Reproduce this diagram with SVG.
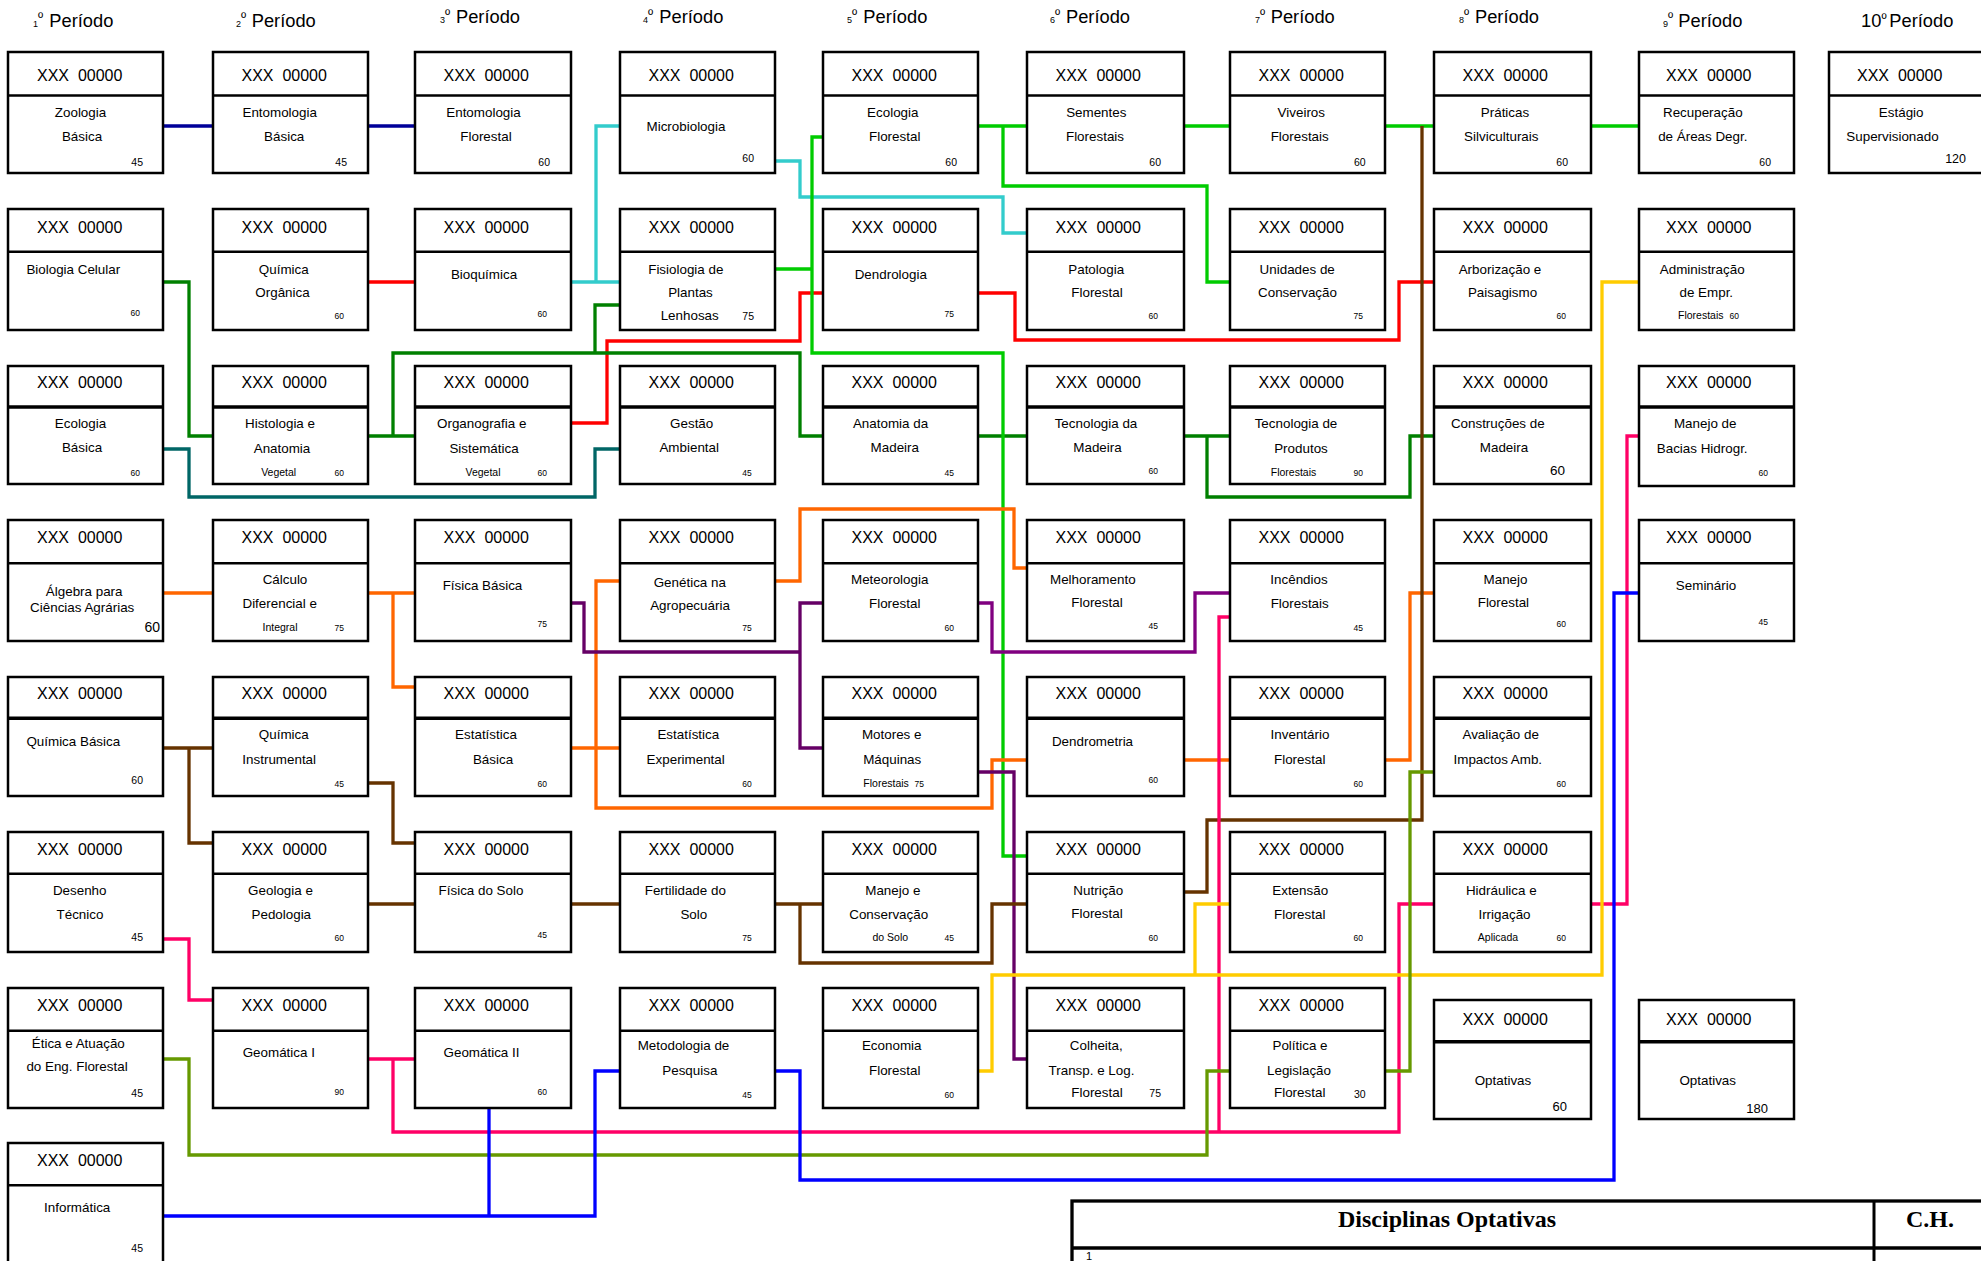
<svg xmlns="http://www.w3.org/2000/svg" width="1981" height="1261" viewBox="0 0 1981 1261">
<style>
.b{fill:#fff;stroke:#000;stroke-width:2.5}
.d{stroke:#000;stroke-width:2.5}
.d3{stroke:#000;stroke-width:3.5}
text{font-family:"Liberation Sans",Arial,sans-serif;fill:#000}
.h{font-size:16px}
.t{font-size:13.4px;text-anchor:middle}
.s{font-size:10.5px;text-anchor:middle}
.sl{font-size:10.5px}
.n{font-size:10.5px;text-anchor:end}
.m{font-size:8.5px;text-anchor:end}
.ph{font-size:18.3px}
.sd{font-size:9px}
.or{font-size:14px}
.c{fill:none;stroke-width:3.3;stroke-linejoin:miter}
.tb{font-family:"Liberation Serif","Times New Roman",serif;font-weight:bold;font-size:24px;text-anchor:middle}
</style>
<rect width="1981" height="1261" fill="#fff"/>
<g id="periodos">
<text class="ph" y="26.5"><tspan x="33" class="sd">1</tspan><tspan class="or" dy="-3.5">º</tspan><tspan x="49.3" dy="3.5">Período</tspan></text>
<text class="ph" y="26.5"><tspan x="236" class="sd">2</tspan><tspan class="or" dy="-3.5">º</tspan><tspan x="251.7" dy="3.5">Período</tspan></text>
<text class="ph" y="23"><tspan x="440" class="sd">3</tspan><tspan class="or" dy="-3.5">º</tspan><tspan x="456" dy="3.5">Período</tspan></text>
<text class="ph" y="23"><tspan x="643" class="sd">4</tspan><tspan class="or" dy="-3.5">º</tspan><tspan x="659.3" dy="3.5">Período</tspan></text>
<text class="ph" y="23"><tspan x="847" class="sd">5</tspan><tspan class="or" dy="-3.5">º</tspan><tspan x="863.3" dy="3.5">Período</tspan></text>
<text class="ph" y="23"><tspan x="1050" class="sd">6</tspan><tspan class="or" dy="-3.5">º</tspan><tspan x="1066" dy="3.5">Período</tspan></text>
<text class="ph" y="23"><tspan x="1255" class="sd">7</tspan><tspan class="or" dy="-3.5">º</tspan><tspan x="1270.7" dy="3.5">Período</tspan></text>
<text class="ph" y="23"><tspan x="1459" class="sd">8</tspan><tspan class="or" dy="-3.5">º</tspan><tspan x="1475" dy="3.5">Período</tspan></text>
<text class="ph" y="26.5"><tspan x="1663" class="sd">9</tspan><tspan class="or" dy="-3.5">º</tspan><tspan x="1678.3" dy="3.5">Período</tspan></text>
<text class="ph" y="27"><tspan x="1861">10</tspan><tspan class="or" x="1881.5" dy="-3">º</tspan><tspan x="1889.3" dy="3">Período</tspan></text>
</g>
<g id="connectors">
<path class="c" stroke="#000099" d="M163,126H213M368,126H415"/>
<path class="c" stroke="#ff0000" d="M368,282H415M570,423H607V341H800V293H823M978,293H1015V340H1399V282H1434"/>
<path class="c" stroke="#008000" d="M163,282H189V436H213M368,436H415M393,436V353H800V436H823M595,353V305H620M978,436H1027M1184,436H1230M1207,436V497H1410V436H1434"/>
<path class="c" stroke="#006666" d="M163,449H189V497H595V449H620"/>
<path class="c" stroke="#33cccc" d="M571,282H620M596,282V126H620M775,161H800V197H1003V233H1027"/>
<path class="c" stroke="#00cc00" d="M978,126H1027M1003,126V186H1207V282H1230M1184,126H1230M1385,126H1434M1591,126H1639M775,269H812M823,137H812V353H1003V856H1027"/>
<path class="c" stroke="#ff6600" d="M163,593H213M368,593H415M393,593V687H415M571,748H620M620,581H596V808H992V760H1027M775,581H800V509H1014V568H1027M1184,760H1230M1385,760H1410V593H1434"/>
<path class="c" stroke="#660066" d="M571,603H584V652H800M823,603H800V748H823M978,772H1014V1059H1027"/>
<path class="c" stroke="#800080" d="M978,603H992V652H1195V593H1230"/>
<path class="c" stroke="#663300" d="M163,748H213M189,748V843H213M368,783H393V843H415M368,904H415M571,904H620M775,904H823M800,904V963H992V904H1027M1184,892H1207V820H1422V126"/>
<path class="c" stroke="#ff0066" d="M163,939H189V1000H213M368,1059H415M393,1059V1132H1399V904H1434M1230,617H1219V1132M1591,904H1627V436H1639"/>
<path class="c" stroke="#ffcc00" d="M978,1071H992V975H1602V282H1639M1195,975V904H1230"/>
<path class="c" stroke="#669900" d="M163,1059H189V1155H1207V1071H1230M1385,1071H1410V772H1434"/>
<path class="c" stroke="#0000ff" d="M163,1216H595V1071H620M489,1216V1108M775,1071H800V1180H1614V593H1639"/>
</g>

<g id="n1-1"><rect class="b" x="8" y="52" width="155" height="121"/><line class="d" x1="8" y1="95.5" x2="163" y2="95.5"/><text class="h" x="37" y="81">XXX&#160; 00000</text><text class="t" x="80.5" y="117.3">Zoologia</text><text class="t" x="82" y="141">Básica</text><text class="n" x="143" y="165.5">45</text></g>
<g id="n1-2"><rect class="b" x="8" y="209" width="155" height="121"/><line class="d" x1="8" y1="251.7" x2="163" y2="251.7"/><text class="h" x="37" y="232.5">XXX&#160; 00000</text><text class="t" x="73.3" y="274">Biologia Celular</text><text class="m" x="140" y="316">60</text></g>
<g id="n1-3"><rect class="b" x="8" y="366" width="155" height="118"/><line class="d3" x1="8" y1="407" x2="163" y2="407"/><text class="h" x="37" y="388">XXX&#160; 00000</text><text class="t" x="80.5" y="427.5">Ecologia</text><text class="t" x="82" y="451.7">Básica</text><text class="m" x="140" y="475.5">60</text></g>
<g id="n1-4"><rect class="b" x="8" y="520" width="155" height="121"/><line class="d" x1="8" y1="563.3" x2="163" y2="563.3"/><text class="h" x="37" y="543.3">XXX&#160; 00000</text><text class="t" x="84.2" y="595.7">Álgebra para</text><text class="t" x="82.2" y="612.3">Ciências Agrárias</text><text x="160" y="631.7" style="font-size:14px;text-anchor:end">60</text></g>
<g id="n1-5"><rect class="b" x="8" y="677" width="155" height="119"/><line class="d3" x1="8" y1="718.3" x2="163" y2="718.3"/><text class="h" x="37" y="699.3">XXX&#160; 00000</text><text class="t" x="73.3" y="746">Química Básica</text><text class="n" x="143" y="784">60</text></g>
<g id="n1-6"><rect class="b" x="8" y="832" width="155" height="120"/><line class="d" x1="8" y1="873.7" x2="163" y2="873.7"/><text class="h" x="37" y="855">XXX&#160; 00000</text><text class="t" x="79.7" y="895">Desenho</text><text class="t" x="80" y="919">Técnico</text><text class="n" x="143" y="941">45</text></g>
<g id="n1-7"><rect class="b" x="8" y="988" width="155" height="120"/><line class="d" x1="8" y1="1030.7" x2="163" y2="1030.7"/><text class="h" x="37" y="1010.7">XXX&#160; 00000</text><text class="t" x="78.3" y="1048.3">Ética e Atuação</text><text class="t" x="77" y="1071">do Eng. Florestal</text><text class="n" x="143" y="1097.3">45</text></g>
<g id="n1-8"><rect class="b" x="8" y="1143" width="155" height="130"/><line class="d" x1="8" y1="1185.3" x2="163" y2="1185.3"/><text class="h" x="37" y="1165.7">XXX&#160; 00000</text><text class="t" x="77.2" y="1211.7">Informática</text><text class="n" x="143" y="1251.7">45</text></g>

<g id="n2-1"><rect class="b" x="213" y="52" width="155" height="121"/><line class="d" x1="213" y1="95.5" x2="368" y2="95.5"/><text class="h" x="241.5" y="81">XXX&#160; 00000</text><text class="t" x="279.7" y="117.3">Entomologia</text><text class="t" x="284.2" y="141">Básica</text><text class="n" x="347" y="165.5">45</text></g>
<g id="n2-2"><rect class="b" x="213" y="209" width="155" height="121"/><line class="d" x1="213" y1="251.7" x2="368" y2="251.7"/><text class="h" x="241.5" y="232.5">XXX&#160; 00000</text><text class="t" x="283.8" y="274">Química</text><text class="t" x="282.5" y="296.7">Orgânica</text><text class="m" x="344" y="319.3">60</text></g>
<g id="n2-3"><rect class="b" x="213" y="366" width="155" height="118"/><line class="d3" x1="213" y1="407" x2="368" y2="407"/><text class="h" x="241.5" y="388">XXX&#160; 00000</text><text class="t" x="280" y="427.5">Histologia e</text><text class="t" x="282" y="453">Anatomia</text><text class="s" x="278.7" y="475.5">Vegetal</text><text class="m" x="344" y="475.5">60</text></g>
<g id="n2-4"><rect class="b" x="213" y="520" width="155" height="121"/><line class="d" x1="213" y1="563.3" x2="368" y2="563.3"/><text class="h" x="241.5" y="543.3">XXX&#160; 00000</text><text class="t" x="285" y="584.3">Cálculo</text><text class="t" x="279.7" y="608.3">Diferencial e</text><text class="s" x="280" y="631">Integral</text><text class="m" x="344" y="630.7">75</text></g>
<g id="n2-5"><rect class="b" x="213" y="677" width="155" height="119"/><line class="d3" x1="213" y1="718.3" x2="368" y2="718.3"/><text class="h" x="241.5" y="699.3">XXX&#160; 00000</text><text class="t" x="283.8" y="739.3">Química</text><text class="t" x="279.2" y="764.3">Instrumental</text><text class="m" x="344" y="786.7">45</text></g>
<g id="n2-6"><rect class="b" x="213" y="832" width="155" height="120"/><line class="d" x1="213" y1="873.7" x2="368" y2="873.7"/><text class="h" x="241.5" y="855">XXX&#160; 00000</text><text class="t" x="280.5" y="895">Geologia e</text><text class="t" x="281.3" y="919">Pedologia</text><text class="m" x="344" y="941">60</text></g>
<g id="n2-7"><rect class="b" x="213" y="988" width="155" height="120"/><line class="d" x1="213" y1="1030.7" x2="368" y2="1030.7"/><text class="h" x="241.5" y="1010.7">XXX&#160; 00000</text><text class="t" x="278.8" y="1057">Geomática I</text><text class="m" x="344" y="1095">90</text></g>

<g id="n3-1"><rect class="b" x="415" y="52" width="156" height="121"/><line class="d" x1="415" y1="95.5" x2="571" y2="95.5"/><text class="h" x="443.5" y="81">XXX&#160; 00000</text><text class="t" x="483.5" y="117.3">Entomologia</text><text class="t" x="486" y="141">Florestal</text><text class="n" x="550" y="165.5">60</text></g>
<g id="n3-2"><rect class="b" x="415" y="209" width="156" height="121"/><line class="d" x1="415" y1="251.7" x2="571" y2="251.7"/><text class="h" x="443.5" y="232.5">XXX&#160; 00000</text><text class="t" x="484" y="279.3">Bioquímica</text><text class="m" x="547" y="316.7">60</text></g>
<g id="n3-3"><rect class="b" x="415" y="366" width="156" height="118"/><line class="d3" x1="415" y1="407" x2="571" y2="407"/><text class="h" x="443.5" y="388">XXX&#160; 00000</text><text class="t" x="481.7" y="427.5">Organografia e</text><text class="t" x="484" y="453">Sistemática</text><text class="s" x="483" y="475.5">Vegetal</text><text class="m" x="547" y="475.5">60</text></g>
<g id="n3-4"><rect class="b" x="415" y="520" width="156" height="121"/><line class="d" x1="415" y1="563.3" x2="571" y2="563.3"/><text class="h" x="443.5" y="543.3">XXX&#160; 00000</text><text class="t" x="482.5" y="590">Física Básica</text><text class="m" x="547" y="627.3">75</text></g>
<g id="n3-5"><rect class="b" x="415" y="677" width="156" height="119"/><line class="d3" x1="415" y1="718.3" x2="571" y2="718.3"/><text class="h" x="443.5" y="699.3">XXX&#160; 00000</text><text class="t" x="486" y="739.3">Estatística</text><text class="t" x="493" y="764.3">Básica</text><text class="m" x="547" y="786.7">60</text></g>
<g id="n3-6"><rect class="b" x="415" y="832" width="156" height="120"/><line class="d" x1="415" y1="873.7" x2="571" y2="873.7"/><text class="h" x="443.5" y="855">XXX&#160; 00000</text><text class="t" x="481" y="895">Física do Solo</text><text class="m" x="547" y="937.7">45</text></g>
<g id="n3-7"><rect class="b" x="415" y="988" width="156" height="120"/><line class="d" x1="415" y1="1030.7" x2="571" y2="1030.7"/><text class="h" x="443.5" y="1010.7">XXX&#160; 00000</text><text class="t" x="481.5" y="1057">Geomática II</text><text class="m" x="547" y="1095">60</text></g>

<g id="n4-1"><rect class="b" x="620" y="52" width="155" height="121"/><line class="d" x1="620" y1="95.5" x2="775" y2="95.5"/><text class="h" x="648.5" y="81">XXX&#160; 00000</text><text class="t" x="686" y="130.7">Microbiologia</text><text class="n" x="754" y="162.3">60</text></g>
<g id="n4-2"><rect class="b" x="620" y="209" width="155" height="121"/><line class="d" x1="620" y1="251.7" x2="775" y2="251.7"/><text class="h" x="648.5" y="232.5">XXX&#160; 00000</text><text class="t" x="685.8" y="274">Fisiologia de</text><text class="t" x="690.5" y="296.7">Plantas</text><text class="t" x="689.7" y="320">Lenhosas</text><text class="n" x="754" y="320">75</text></g>
<g id="n4-3"><rect class="b" x="620" y="366" width="155" height="118"/><line class="d3" x1="620" y1="407" x2="775" y2="407"/><text class="h" x="648.5" y="388">XXX&#160; 00000</text><text class="t" x="691.7" y="427.5">Gestão</text><text class="t" x="689.2" y="451.7">Ambiental</text><text class="m" x="751.7" y="475.5">45</text></g>
<g id="n4-4"><rect class="b" x="620" y="520" width="155" height="121"/><line class="d" x1="620" y1="563.3" x2="775" y2="563.3"/><text class="h" x="648.5" y="543.3">XXX&#160; 00000</text><text class="t" x="689.8" y="587.3">Genética na</text><text class="t" x="690" y="610">Agropecuária</text><text class="m" x="751.7" y="630.7">75</text></g>
<g id="n4-5"><rect class="b" x="620" y="677" width="155" height="119"/><line class="d3" x1="620" y1="718.3" x2="775" y2="718.3"/><text class="h" x="648.5" y="699.3">XXX&#160; 00000</text><text class="t" x="688.3" y="739.3">Estatística</text><text class="t" x="685.7" y="764.3">Experimental</text><text class="m" x="751.7" y="786.7">60</text></g>
<g id="n4-6"><rect class="b" x="620" y="832" width="155" height="120"/><line class="d" x1="620" y1="873.7" x2="775" y2="873.7"/><text class="h" x="648.5" y="855">XXX&#160; 00000</text><text class="t" x="685.3" y="895">Fertilidade do</text><text class="t" x="693.8" y="919">Solo</text><text class="m" x="751.7" y="941">75</text></g>
<g id="n4-7"><rect class="b" x="620" y="988" width="155" height="120"/><line class="d" x1="620" y1="1030.7" x2="775" y2="1030.7"/><text class="h" x="648.5" y="1010.7">XXX&#160; 00000</text><text class="t" x="683.5" y="1050">Metodologia de</text><text class="t" x="689.8" y="1075">Pesquisa</text><text class="m" x="751.7" y="1098">45</text></g>

<g id="n5-1"><rect class="b" x="823" y="52" width="155" height="121"/><line class="d" x1="823" y1="95.5" x2="978" y2="95.5"/><text class="h" x="851.5" y="81">XXX&#160; 00000</text><text class="t" x="892.8" y="117.3">Ecologia</text><text class="t" x="894.7" y="141">Florestal</text><text class="n" x="957" y="165.5">60</text></g>
<g id="n5-2"><rect class="b" x="823" y="209" width="155" height="121"/><line class="d" x1="823" y1="251.7" x2="978" y2="251.7"/><text class="h" x="851.5" y="232.5">XXX&#160; 00000</text><text class="t" x="890.8" y="279.3">Dendrologia</text><text class="m" x="954" y="316.7">75</text></g>
<g id="n5-3"><rect class="b" x="823" y="366" width="155" height="118"/><line class="d3" x1="823" y1="407" x2="978" y2="407"/><text class="h" x="851.5" y="388">XXX&#160; 00000</text><text class="t" x="890.5" y="427.5">Anatomia da</text><text class="t" x="894.8" y="451.7">Madeira</text><text class="m" x="954" y="475.5">45</text></g>
<g id="n5-4"><rect class="b" x="823" y="520" width="155" height="121"/><line class="d" x1="823" y1="563.3" x2="978" y2="563.3"/><text class="h" x="851.5" y="543.3">XXX&#160; 00000</text><text class="t" x="889.7" y="584.3">Meteorologia</text><text class="t" x="894.7" y="608.3">Florestal</text><text class="m" x="954" y="630.7">60</text></g>
<g id="n5-5"><rect class="b" x="823" y="677" width="155" height="119"/><line class="d3" x1="823" y1="718.3" x2="978" y2="718.3"/><text class="h" x="851.5" y="699.3">XXX&#160; 00000</text><text class="t" x="891.7" y="739.3">Motores e</text><text class="t" x="892.2" y="764.3">Máquinas</text><text class="sl" x="863.3" y="786.7">Florestais</text><text class="m" x="924" y="786.7">75</text></g>
<g id="n5-6"><rect class="b" x="823" y="832" width="155" height="120"/><line class="d" x1="823" y1="873.7" x2="978" y2="873.7"/><text class="h" x="851.5" y="855">XXX&#160; 00000</text><text class="t" x="892.8" y="895">Manejo e</text><text class="t" x="888.7" y="919">Conservação</text><text class="s" x="890.3" y="941">do Solo</text><text class="m" x="954" y="941">45</text></g>
<g id="n5-7"><rect class="b" x="823" y="988" width="155" height="120"/><line class="d" x1="823" y1="1030.7" x2="978" y2="1030.7"/><text class="h" x="851.5" y="1010.7">XXX&#160; 00000</text><text class="t" x="891.7" y="1050">Economia</text><text class="t" x="894.7" y="1075">Florestal</text><text class="m" x="954" y="1098">60</text></g>

<g id="n6-1"><rect class="b" x="1027" y="52" width="157" height="121"/><line class="d" x1="1027" y1="95.5" x2="1184" y2="95.5"/><text class="h" x="1055.5" y="81">XXX&#160; 00000</text><text class="t" x="1096.3" y="117.3">Sementes</text><text class="t" x="1095" y="141">Florestais</text><text class="n" x="1161" y="165.5">60</text></g>
<g id="n6-2"><rect class="b" x="1027" y="209" width="157" height="121"/><line class="d" x1="1027" y1="251.7" x2="1184" y2="251.7"/><text class="h" x="1055.5" y="232.5">XXX&#160; 00000</text><text class="t" x="1096.2" y="274">Patologia</text><text class="t" x="1097" y="296.7">Florestal</text><text class="m" x="1158" y="319.3">60</text></g>
<g id="n6-3"><rect class="b" x="1027" y="366" width="157" height="118"/><line class="d3" x1="1027" y1="407" x2="1184" y2="407"/><text class="h" x="1055.5" y="388">XXX&#160; 00000</text><text class="t" x="1096" y="427.5">Tecnologia da</text><text class="t" x="1097.5" y="451.7">Madeira</text><text class="m" x="1158" y="474.3">60</text></g>
<g id="n6-4"><rect class="b" x="1027" y="520" width="157" height="121"/><line class="d" x1="1027" y1="563.3" x2="1184" y2="563.3"/><text class="h" x="1055.5" y="543.3">XXX&#160; 00000</text><text class="t" x="1092.8" y="584.3">Melhoramento</text><text class="t" x="1097" y="607.3">Florestal</text><text class="m" x="1158" y="629.3">45</text></g>
<g id="n6-5"><rect class="b" x="1027" y="677" width="157" height="119"/><line class="d3" x1="1027" y1="718.3" x2="1184" y2="718.3"/><text class="h" x="1055.5" y="699.3">XXX&#160; 00000</text><text class="t" x="1092.5" y="746">Dendrometria</text><text class="m" x="1158" y="783.3">60</text></g>
<g id="n6-6"><rect class="b" x="1027" y="832" width="157" height="120"/><line class="d" x1="1027" y1="873.7" x2="1184" y2="873.7"/><text class="h" x="1055.5" y="855">XXX&#160; 00000</text><text class="t" x="1098.3" y="895">Nutrição</text><text class="t" x="1097" y="918.3">Florestal</text><text class="m" x="1158" y="941">60</text></g>
<g id="n6-7"><rect class="b" x="1027" y="988" width="157" height="120"/><line class="d" x1="1027" y1="1030.7" x2="1184" y2="1030.7"/><text class="h" x="1055.5" y="1010.7">XXX&#160; 00000</text><text class="t" x="1096.3" y="1050">Colheita,</text><text class="t" x="1091.5" y="1075">Transp. e Log.</text><text class="t" x="1097" y="1097.3">Florestal</text><text class="n" x="1161" y="1097.3">75</text></g>

<g id="n7-1"><rect class="b" x="1230" y="52" width="155" height="121"/><line class="d" x1="1230" y1="95.5" x2="1385" y2="95.5"/><text class="h" x="1258.5" y="81">XXX&#160; 00000</text><text class="t" x="1301.3" y="117.3">Viveiros</text><text class="t" x="1299.7" y="141">Florestais</text><text class="n" x="1365.7" y="165.5">60</text></g>
<g id="n7-2"><rect class="b" x="1230" y="209" width="155" height="121"/><line class="d" x1="1230" y1="251.7" x2="1385" y2="251.7"/><text class="h" x="1258.5" y="232.5">XXX&#160; 00000</text><text class="t" x="1297.2" y="274">Unidades de</text><text class="t" x="1297.5" y="296.7">Conservação</text><text class="m" x="1363" y="319.3">75</text></g>
<g id="n7-3"><rect class="b" x="1230" y="366" width="155" height="118"/><line class="d3" x1="1230" y1="407" x2="1385" y2="407"/><text class="h" x="1258.5" y="388">XXX&#160; 00000</text><text class="t" x="1296" y="427.5">Tecnologia de</text><text class="t" x="1301" y="453.3">Produtos</text><text class="s" x="1293.5" y="475.5">Florestais</text><text class="m" x="1363" y="475.5">90</text></g>
<g id="n7-4"><rect class="b" x="1230" y="520" width="155" height="121"/><line class="d" x1="1230" y1="563.3" x2="1385" y2="563.3"/><text class="h" x="1258.5" y="543.3">XXX&#160; 00000</text><text class="t" x="1299" y="584.3">Incêndios</text><text class="t" x="1299.7" y="608.3">Florestais</text><text class="m" x="1363" y="630.7">45</text></g>
<g id="n7-5"><rect class="b" x="1230" y="677" width="155" height="119"/><line class="d3" x1="1230" y1="718.3" x2="1385" y2="718.3"/><text class="h" x="1258.5" y="699.3">XXX&#160; 00000</text><text class="t" x="1300" y="739.3">Inventário</text><text class="t" x="1299.7" y="764.3">Florestal</text><text class="m" x="1363" y="786.7">60</text></g>
<g id="n7-6"><rect class="b" x="1230" y="832" width="155" height="120"/><line class="d" x1="1230" y1="873.7" x2="1385" y2="873.7"/><text class="h" x="1258.5" y="855">XXX&#160; 00000</text><text class="t" x="1300.2" y="895">Extensão</text><text class="t" x="1299.7" y="919">Florestal</text><text class="m" x="1363" y="941">60</text></g>
<g id="n7-7"><rect class="b" x="1230" y="988" width="155" height="120"/><line class="d" x1="1230" y1="1030.7" x2="1385" y2="1030.7"/><text class="h" x="1258.5" y="1010.7">XXX&#160; 00000</text><text class="t" x="1300" y="1050">Política e</text><text class="t" x="1299" y="1075">Legislação</text><text class="t" x="1299.7" y="1097.3">Florestal</text><text class="n" x="1365.7" y="1098">30</text></g>

<g id="n8-1"><rect class="b" x="1434" y="52" width="157" height="121"/><line class="d" x1="1434" y1="95.5" x2="1591" y2="95.5"/><text class="h" x="1462.5" y="81">XXX&#160; 00000</text><text class="t" x="1505" y="117.3">Práticas</text><text class="t" x="1501.3" y="141">Silviculturais</text><text class="n" x="1568" y="165.5">60</text></g>
<g id="n8-2"><rect class="b" x="1434" y="209" width="157" height="121"/><line class="d" x1="1434" y1="251.7" x2="1591" y2="251.7"/><text class="h" x="1462.5" y="232.5">XXX&#160; 00000</text><text class="t" x="1500" y="274">Arborização e</text><text class="t" x="1502.5" y="296.7">Paisagismo</text><text class="m" x="1566" y="319.3">60</text></g>
<g id="n8-3"><rect class="b" x="1434" y="366" width="157" height="118"/><line class="d3" x1="1434" y1="407" x2="1591" y2="407"/><text class="h" x="1462.5" y="388">XXX&#160; 00000</text><text class="t" x="1497.8" y="427.5">Construções de</text><text class="t" x="1504" y="451.7">Madeira</text><text x="1565" y="475" style="font-size:13.5px;text-anchor:end">60</text></g>
<g id="n8-4"><rect class="b" x="1434" y="520" width="157" height="121"/><line class="d" x1="1434" y1="563.3" x2="1591" y2="563.3"/><text class="h" x="1462.5" y="543.3">XXX&#160; 00000</text><text class="t" x="1505.5" y="584.3">Manejo</text><text class="t" x="1503.4" y="607.3">Florestal</text><text class="m" x="1566" y="627.3">60</text></g>
<g id="n8-5"><rect class="b" x="1434" y="677" width="157" height="119"/><line class="d3" x1="1434" y1="718.3" x2="1591" y2="718.3"/><text class="h" x="1462.5" y="699.3">XXX&#160; 00000</text><text class="t" x="1500.7" y="739.3">Avaliação de</text><text class="t" x="1497.8" y="764.3">Impactos Amb.</text><text class="m" x="1566" y="786.7">60</text></g>
<g id="n8-6"><rect class="b" x="1434" y="832" width="157" height="120"/><line class="d" x1="1434" y1="873.7" x2="1591" y2="873.7"/><text class="h" x="1462.5" y="855">XXX&#160; 00000</text><text class="t" x="1501.3" y="895">Hidráulica e</text><text class="t" x="1504.5" y="919">Irrigação</text><text class="s" x="1498" y="941">Aplicada</text><text class="m" x="1566" y="941">60</text></g>
<g id="n8-7"><rect class="b" x="1434" y="1000" width="157" height="119"/><line class="d3" x1="1434" y1="1041.7" x2="1591" y2="1041.7"/><text class="h" x="1462.5" y="1025">XXX&#160; 00000</text><text class="t" x="1503" y="1085">Optativas</text><text x="1567" y="1110.7" style="font-size:13px;text-anchor:end">60</text></g>

<g id="n9-1"><rect class="b" x="1639" y="52" width="155" height="121"/><line class="d" x1="1639" y1="95.5" x2="1794" y2="95.5"/><text class="h" x="1666" y="81">XXX&#160; 00000</text><text class="t" x="1702.8" y="117.3">Recuperação</text><text class="t" x="1702.8" y="141">de Áreas Degr.</text><text class="n" x="1771" y="165.5">60</text></g>
<g id="n9-2"><rect class="b" x="1639" y="209" width="155" height="121"/><line class="d" x1="1639" y1="251.7" x2="1794" y2="251.7"/><text class="h" x="1666" y="232.5">XXX&#160; 00000</text><text class="t" x="1702.2" y="274">Administração</text><text class="t" x="1706.3" y="296.7">de Empr.</text><text class="sl" x="1678" y="319.3">Florestais</text><text class="m" x="1739" y="319.3">60</text></g>
<g id="n9-3"><rect class="b" x="1639" y="366" width="155" height="120"/><line class="d3" x1="1639" y1="407" x2="1794" y2="407"/><text class="h" x="1666" y="388">XXX&#160; 00000</text><text class="t" x="1705.2" y="427.5">Manejo de</text><text class="t" x="1702.2" y="453.3">Bacias Hidrogr.</text><text class="m" x="1768" y="475.7">60</text></g>
<g id="n9-4"><rect class="b" x="1639" y="520" width="155" height="121"/><line class="d" x1="1639" y1="563.3" x2="1794" y2="563.3"/><text class="h" x="1666" y="543.3">XXX&#160; 00000</text><text class="t" x="1706" y="590">Seminário</text><text class="m" x="1768" y="625.3">45</text></g>
<g id="n9-7"><rect class="b" x="1639" y="1000" width="155" height="119"/><line class="d3" x1="1639" y1="1041.7" x2="1794" y2="1041.7"/><text class="h" x="1666" y="1025">XXX&#160; 00000</text><text class="t" x="1707.7" y="1085">Optativas</text><text x="1768" y="1112.7" style="font-size:13px;text-anchor:end">180</text></g>

<g id="n10-1"><rect class="b" x="1829" y="52" width="160" height="121"/><line class="d" x1="1829" y1="95.5" x2="1989" y2="95.5"/><text class="h" x="1857" y="81">XXX&#160; 00000</text><text class="t" x="1901.2" y="117.3">Estágio</text><text class="t" x="1892.5" y="141">Supervisionado</text><text x="1966" y="162.7" style="font-size:12.5px;text-anchor:end">120</text></g>

<g id="tabela">
<rect x="1072" y="1201" width="1000" height="120" fill="none" stroke="#000" stroke-width="3.3"/>
<line x1="1072" y1="1248" x2="1981" y2="1248" stroke="#000" stroke-width="3.3"/>
<line x1="1874" y1="1201" x2="1874" y2="1261" stroke="#000" stroke-width="3"/>
<text class="tb" x="1447" y="1226.7">Disciplinas Optativas</text>
<text class="tb" x="1930" y="1226.7">C.H.</text>
<text x="1086" y="1260" style="font-family:'Liberation Sans',Arial,sans-serif;font-size:11px">1</text>
</g>
</svg>
